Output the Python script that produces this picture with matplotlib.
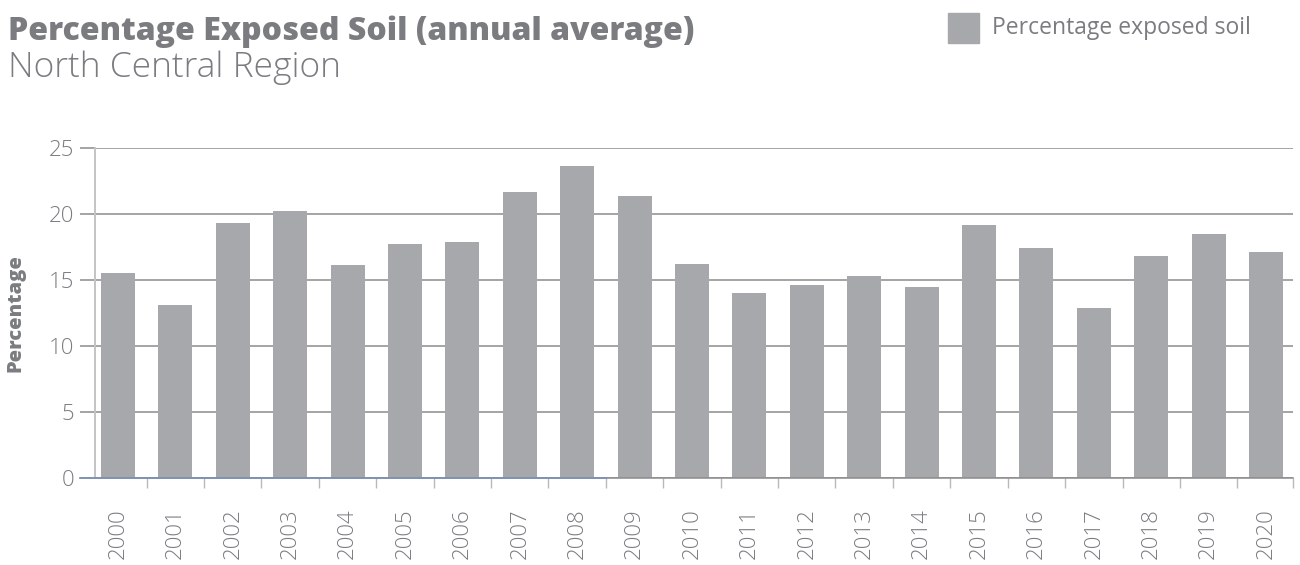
import matplotlib
matplotlib.use("Agg")
import matplotlib.pyplot as plt
from matplotlib.ticker import FixedLocator

# Annual average share of exposed soil, North Central Region
years = [str(y) for y in range(2000, 2021)]
exposed_soil = [15.5, 13.1, 19.3, 20.2, 16.1, 17.7, 17.9, 21.7, 23.6, 21.4,
                16.2, 14.0, 14.6, 15.3, 14.5, 19.2, 17.4, 12.9, 16.8, 18.5, 17.1]
y_ticks = [0, 5, 10, 15, 20, 25]

BAR = "#a7a8ac"
TEXT = "#7b7c80"
GRID = "#8b8b8d"

plt.rcParams["font.family"] = ["Open Sans", "DejaVu Sans"]

W, H = 1300, 565
fig = plt.figure(figsize=(W / 100, H / 100), dpi=100)
ax = fig.add_axes([95 / W, 1 - 478 / H, (1293 - 95) / W, (478 - 148) / H])

x = list(range(len(years)))
ax.bar(x, exposed_soil, width=0.59, color=BAR, zorder=3)

ax.set_xlim(-0.40, len(years) - 1 + 0.47)
ax.set_ylim(0, 25)

# gridlines, with the y ticks drawn as their leftward extension
ax.yaxis.set_major_locator(FixedLocator(y_ticks))
ax.grid(axis="y", color=GRID, linewidth=1.1, zorder=1)
ax.tick_params(axis="y", length=11, width=1.1, color=GRID, pad=4,
               labelsize=16, labelcolor=TEXT)
for lab in ax.get_yticklabels():
    lab.set_fontweight("light")

# year labels under bars, small ticks between bars
ax.set_xticks(x)
ax.set_xticklabels(years, rotation=90, fontsize=16, color=TEXT,
                   fontweight="light", va="top")
ax.tick_params(axis="x", which="major", length=0, pad=22)
ax.xaxis.set_minor_locator(FixedLocator([i + 0.5 for i in x[:-1]] + [len(x) - 0.53]))
ax.tick_params(axis="x", which="minor", length=7, width=1, color="#b9b9bb")

for side in ("top", "right"):
    ax.spines[side].set_visible(False)
ax.spines["left"].set_color("#c4c4c6")
ax.spines["left"].set_linewidth(1.4)
ax.spines["bottom"].set_color(GRID)
ax.spines["bottom"].set_linewidth(1.1)
ax.spines["bottom"].set_zorder(4)
# blue tint on the first stretch of the baseline
ax.axhline(0, xmin=-0.0125, xmax=(8.5 + 0.40) / (len(years) - 1 + 0.87),
           color="#7f93b5", linewidth=1.3, zorder=5, clip_on=False)

ax.set_ylabel("Percentage", fontsize=14.5, fontweight="heavy", color=TEXT)
ax.yaxis.set_label_coords(-0.0576, 0.5)

fig.text(8 / W, 1 - 40 / H, "Percentage Exposed Soil (annual average)",
         fontsize=23, fontweight="heavy", color=TEXT, va="baseline")
fig.text(8 / W, 1 - 77 / H, "North Central Region",
         fontsize=25.5, fontweight="light", color=TEXT, va="baseline")

# legend
fig.patches.append(plt.Rectangle((948 / W, 1 - 43 / H), 31 / W, 30 / H,
                                 transform=fig.transFigure, color=BAR))
fig.text(992 / W, 1 - 28 / H, "Percentage exposed soil", fontsize=16.5,
         color=TEXT, va="center")

fig.savefig("out.png", dpi=100)
